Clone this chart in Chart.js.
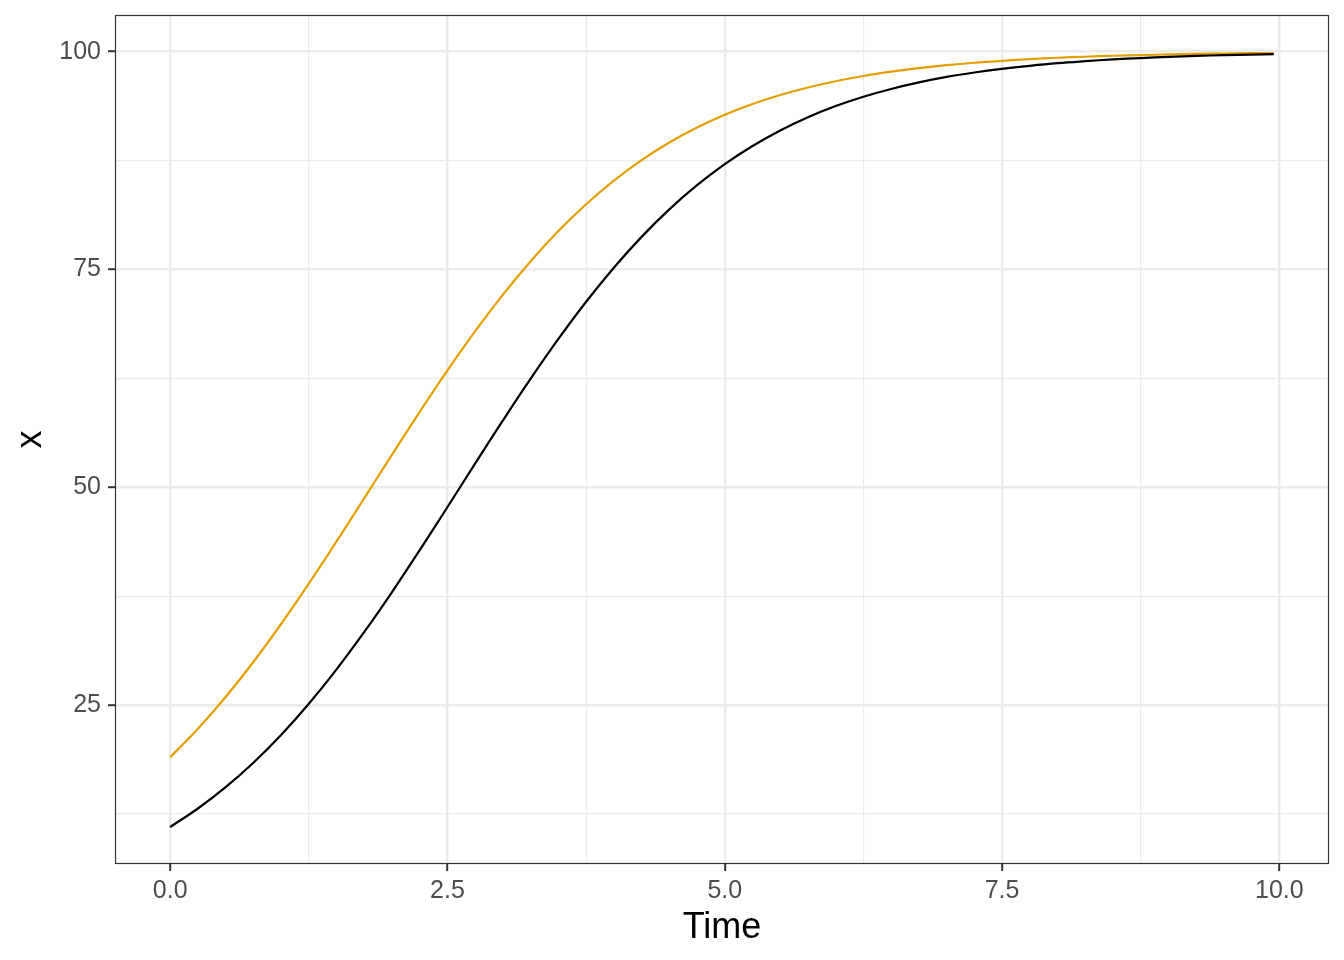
<!DOCTYPE html>
<html>
<head>
<meta charset="utf-8">
<script src="https://cdn.jsdelivr.net/npm/chart.js@4/dist/chart.umd.min.js"></script>
<style>
html,body{margin:0;padding:0;background:#fff;}
canvas{display:block;}
</style>
</head>
<body>
<canvas id="c" width="1344" height="960"></canvas>
<script>
const times = [0,0.25,0.5,0.75,1,1.25,1.5,1.75,2,2.25,2.5,2.75,3,3.25,3.5,3.75,4,4.25,4.5,4.75,5,5.25,5.5,5.75,6,6.25,6.5,6.75,7,7.25,7.5,7.75,8,8.25,8.5,8.75,9,9.25,9.5,9.75,9.95];
const blackSeries = [11.00,13.12,15.57,18.38,21.57,25.15,29.10,33.39,37.97,42.78,47.73,52.73,57.67,62.46,67.02,71.29,75.20,78.74,81.90,84.67,87.09,89.17,90.96,92.48,93.76,94.83,95.72,96.47,97.10,97.61,98.03,98.38,98.68,98.91,99.11,99.27,99.40,99.51,99.60,99.67,99.72];
const orangeSeries = [19.00,22.27,25.92,29.94,34.30,38.93,43.78,48.75,53.74,58.66,63.41,67.92,72.11,75.95,79.41,82.49,85.19,87.54,89.57,91.29,92.76,93.99,95.02,95.89,96.61,97.21,97.70,98.11,98.45,98.73,98.95,99.14,99.30,99.42,99.53,99.61,99.68,99.74,99.79,99.83,99.85];
const xTicks = [0,1.25,2.5,3.75,5,6.25,7.5,8.75,10];
const xMajor = [0,2.5,5,7.5,10];
const yTicks = [12.5,25,37.5,50,62.5,75,87.5,100];
const yMajor = [25,50,75,100];

const pts = (ys) => times.map((t,i)=>({x:t,y:ys[i]}));
const isMajor = (arr,v) => arr.some(m=>Math.abs(m-v)<1e-9);

const frame = {
  id:'frame',
  afterDatasetsDraw(chart){
    const a = chart.chartArea, c = chart.ctx;
    c.save();
    c.strokeStyle = '#333333';
    c.lineWidth = 1.2;
    c.strokeRect(Math.round(a.left)+0.5, Math.round(a.top)+0.5, Math.round(a.right-a.left)-1, Math.round(a.bottom-a.top)-1);
    c.restore();
  }
};

function gridFor(major){
  return {
    color: '#EBEBEB',
    lineWidth: (ctx)=> ctx.tick && isMajor(major, ctx.tick.value) ? 2.4 : 1.2,
    drawTicks: true,
    tickLength: 7,
    tickColor: (ctx)=> ctx.tick && isMajor(major, ctx.tick.value) ? '#333333' : 'rgba(0,0,0,0)',
    tickWidth: 2
  };
}
const FONT = '"Liberation Sans", Arial, sans-serif';

new Chart(document.getElementById('c'), {
  type: 'line',
  data: {
    datasets: [
      {label:'black', data: pts(blackSeries), borderColor:'#000000', borderWidth:2.2, pointRadius:0, tension:0.4, fill:false},
      {label:'orange', data: pts(orangeSeries), borderColor:'#E69F00', borderWidth:2.2, pointRadius:0, tension:0.4, fill:false}
    ]
  },
  options: {
    responsive:false,
    animation:false,
    devicePixelRatio:1,
    layout:{padding:{left:0,right:15,top:15,bottom:0}},
    plugins:{legend:{display:false}, tooltip:{enabled:false}},
    scales:{
      x:{
        type:'linear',
        min:-0.4975, max:10.4475,
        afterBuildTicks:(s)=>{ s.ticks = xTicks.map(v=>({value:v})); },
        afterFit:(s)=>{ s.height = 96; s.paddingLeft = 0; s.paddingRight = 0; },
        grid: gridFor(xMajor),
        border:{display:false},
        ticks:{
          autoSkip:false, maxRotation:0, padding:5,
          color:'#4D4D4D',
          font:{family:FONT, size:25},
          callback:(v)=> isMajor(xMajor, v) ? Number(v).toFixed(1) : ''
        },
        title:{display:true, text:'Time', color:'#000000', padding:{top:0,bottom:10},
          font:{family:FONT, size:36}}
      },
      y:{
        type:'linear',
        min:6.75, max:104.21,
        afterBuildTicks:(s)=>{ s.ticks = yTicks.map(v=>({value:v})); },
        afterFit:(s)=>{ s.width = 115; s.paddingTop = 0; s.paddingBottom = 0; },
        grid: gridFor(yMajor),
        border:{display:false},
        ticks:{
          autoSkip:false, padding:7,
          color:'#4D4D4D',
          font:{family:FONT, size:25},
          callback:(v)=> isMajor(yMajor, v) ? String(v) : ''
        },
        title:{display:true, text:'x', color:'#000000', padding:{top:9,bottom:0},
          font:{family:FONT, size:36}}
      }
    }
  },
  plugins:[frame]
});
</script>
</body>
</html>
